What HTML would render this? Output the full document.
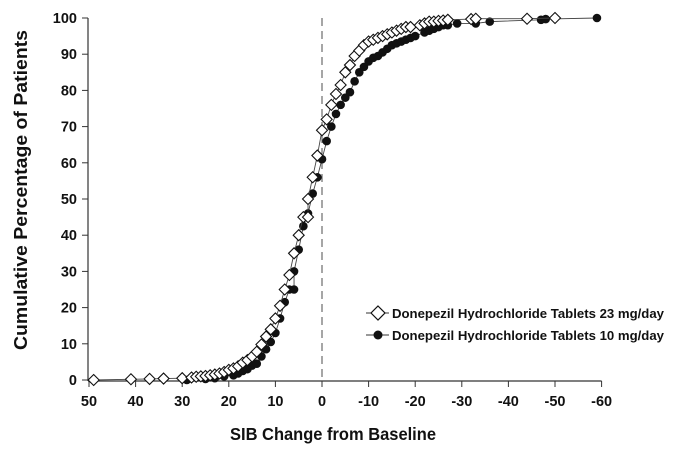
<!DOCTYPE html>
<html><head><meta charset="utf-8"><style>
body{margin:0;background:#fff}
text{font-family:"Liberation Sans",Arial,sans-serif;font-weight:bold;fill:#111}
</style></head><body>
<svg id="chart" width="687" height="449" xmlns="http://www.w3.org/2000/svg">
<g id="axes"></g><g id="series"></g>
<text x="333" y="440" text-anchor="middle" font-size="17.5" textLength="206" lengthAdjust="spacingAndGlyphs">SIB Change from Baseline</text>
<text transform="translate(27,190) rotate(-90)" text-anchor="middle" font-size="18.5" textLength="320" lengthAdjust="spacingAndGlyphs">Cumulative Percentage of Patients</text>
<g>
<line x1="366" y1="313" x2="389" y2="313" stroke="#333" stroke-width="1"/>
<path d="M378 306 L385 313 L378 320 L371 313 Z" fill="#fff" stroke="#111" stroke-width="1.2"/>
<text x="392" y="318" font-size="12.5" textLength="272" lengthAdjust="spacingAndGlyphs">Donepezil Hydrochloride Tablets 23 mg/day</text>
<line x1="366" y1="335" x2="389" y2="335" stroke="#333" stroke-width="1"/>
<circle cx="378" cy="335" r="4.5" fill="#111"/>
<text x="392" y="340" font-size="12.5" textLength="272" lengthAdjust="spacingAndGlyphs">Donepezil Hydrochloride Tablets 10 mg/day</text>
</g>
</svg>
<script>
const xTicks=[50,40,30,20,10,0,-10,-20,-30,-40,-50,-60];
const yTicks=[0,10,20,30,40,50,60,70,80,90,100];
const x23=[49,41,37,34,30,28,27,26,25,24,23,22,21,20,19,18,17,16,15,14,13,12,11,10,9,8,7,6,5,4,3,3,2,1,0,-1,-2,-3,-4,-5,-6,-7,-8,-9,-10,-11,-12,-13,-14,-15,-16,-17,-18,-19,-21,-22,-23,-24,-25,-26,-27,-32,-33,-44,-50];
const y23=[0,0.2,0.3,0.4,0.5,0.7,0.9,1,1.1,1.3,1.5,1.8,2.2,2.8,3.2,3.8,4.8,5.5,6.5,7.8,9.8,12,14,17,20.5,25,29,35,40,45,45,50,56,62,69,72,76,79,81.5,85,87,89.5,91,92.5,93.5,94,94.5,95,95.5,96,96.5,97,97.5,97.5,98,98.5,99,99,99.2,99.3,99.5,99.7,99.8,99.8,100];
const x10=[29,25,23,21,19,18,17,16,15,14,13,12,11,10,9,8,7,6,6,5,4,3,2,1,0,-1,-2,-3,-4,-5,-6,-7,-8,-9,-10,-11,-12,-13,-14,-15,-16,-17,-18,-19,-20,-22,-23,-24,-25,-26,-27,-29,-33,-36,-47,-48,-59];
const y10=[0,0.3,0.5,1,1.3,1.8,2.5,3,4,4.5,6.5,8.5,10.5,13,17,21.5,25,25,30,36,42.5,46,51.5,56,61,66,70,73.5,76,78,79.5,82.5,85,86.5,88,89,89.5,90.5,91.5,92.5,93,93.5,94,94.5,95,96,96.5,97,97.5,98,98,98.5,98.5,99,99.5,99.7,100];
const NS='http://www.w3.org/2000/svg';
const X=v=>322-(v*46.6/10);
const Y=v=>380-v*3.62;
function mk(t,a,p){const e=document.createElementNS(NS,t);for(const k in a)e.setAttribute(k,a[k]);p.appendChild(e);return e;}
const ax=document.getElementById('axes'), se=document.getElementById('series');
let e=mk('line',{x1:88,y1:Y(100),x2:88,y2:381,stroke:'#333','stroke-width':1.2},ax);


e=mk('line',{x1:88,y1:381,x2:X(-60),y2:381,stroke:'#333','stroke-width':1.2},ax);


e=mk('line',{x1:X(0),y1:Y(100),x2:X(0),y2:381,stroke:'#222','stroke-width':0.8,'stroke-dasharray':'8,5'},ax);


xTicks.forEach(v=>{mk('line',{x1:X(v),y1:381,x2:X(v),y2:387,stroke:'#333'},ax);
const t=mk('text',{x:X(v),y:406,'text-anchor':'middle','font-size':14.5},ax);t.textContent=v;

});
yTicks.forEach(v=>{mk('line',{x1:82,y1:Y(v),x2:88,y2:Y(v),stroke:'#333'},ax);
const t=mk('text',{x:77,y:Y(v)+5,'text-anchor':'end','font-size':14.5},ax);t.textContent=v;

});
function series(xs,ys,type,name){
const g=mk('g',{},se);


mk('polyline',{points:xs.map((v,i)=>X(v)+','+Y(ys[i])).join(' '),fill:'none',stroke:'#444','stroke-width':0.9},g);
xs.forEach((v,i)=>{const cx=X(v),cy=Y(ys[i]);let m;
if(type==='d')m=mk('path',{d:`M${cx} ${cy-5.5}L${cx+5.5} ${cy}L${cx} ${cy+5.5}L${cx-5.5} ${cy}Z`,fill:'#fff',stroke:'#111','stroke-width':1.1},g);
else m=mk('circle',{cx:cx,cy:cy,r:4.3,fill:'#111'},g);

});
}
series(x10,y10,'c','series-10mg');
series(x23,y23,'d','series-23mg');
</script>
</body></html>
